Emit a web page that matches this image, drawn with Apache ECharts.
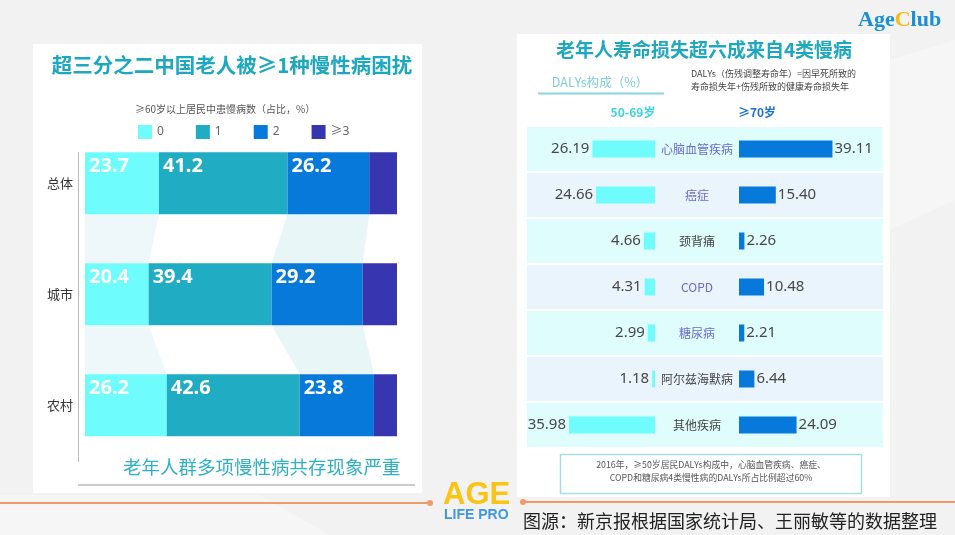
<!DOCTYPE html>
<html>
<head>
<meta charset="utf-8">
<script src="https://cdn.jsdelivr.net/npm/echarts@6.0.0/dist/echarts.min.js"></script>
<style>html,body{margin:0;padding:0;background:#f2f2f2}#c{width:955px;height:535px}</style>
</head>
<body>
<div id="c"></div>
<script>
// ---- Data: left chart (share of elderly by number of chronic diseases, %) ----
const areaCats = ['总体', '城市', '农村'];
const countLabels = ['0', '1', '2', '≥3'];
const share0 = [23.7, 20.4, 26.2];
const share1 = [41.2, 39.4, 42.6];
const share2 = [26.2, 29.2, 23.8];
const share3 = [8.9, 11.0, 7.4];

// ---- Data: right chart (DALYs composition, %) ----
const diseases = ['心脑血管疾病', '癌症', '颈背痛', 'COPD', '糖尿病', '阿尔兹海默病', '其他疾病'];
const dalys5069 = [26.19, 24.66, 4.66, 4.31, 2.99, 1.18, 35.98];
const dalys70 = [39.11, 15.40, 2.26, 10.48, 2.21, 6.44, 24.09];
const majorDiseases = ['心脑血管疾病', '癌症', 'COPD', '糖尿病'];

const FONT = "'Noto Sans CJK SC', 'Noto Sans', sans-serif";
const NUMFONT = "'Noto Sans', 'Noto Sans CJK SC', sans-serif";
const segs = [share0, share1, share2, share3];
const segColors = ['#6ffcfc', '#20acc2', '#0779db', '#3835b0'];
const BAR_L = 62;

function cum(r, n) { let s = 0; for (let j = 0; j < n; j++) s += segs[j][r]; return s; }

const bandData = [];
for (let i = 0; i < areaCats.length - 1; i++) { bandData.push([i, 0]); bandData.push([i, 2]); }

function renderBand(params, api) {
  const i = api.value(0), k = api.value(1), half = BAR_L / 2;
  const a0 = api.coord([cum(i, k), i]), a1 = api.coord([cum(i, k + 1), i]);
  const b0 = api.coord([cum(i + 1, k), i + 1]), b1 = api.coord([cum(i + 1, k + 1), i + 1]);
  return {
    type: 'polygon',
    shape: { points: [[a0[0], a0[1] + half], [a1[0], a1[1] + half], [b1[0], b1[1] - half], [b0[0], b0[1] - half]] },
    style: { fill: k === 0 ? '#eef8fa' : '#e9f6f8' }
  };
}

const chart = echarts.init(document.getElementById('c'), null, { renderer: 'canvas' });

const leftSeries = segs.map((d, k) => ({
  type: 'bar', name: countLabels[k], stack: 'all', xAxisIndex: 0, yAxisIndex: 0,
  barWidth: BAR_L, data: d, z: 3,
  itemStyle: { color: segColors[k] },
  label: {
    show: k < 3, position: 'insideTopLeft', distance: 4, formatter: '{c}',
    color: '#fff', fontSize: 20, fontWeight: 'bold', fontFamily: NUMFONT
  }
}));

const option = {
  backgroundColor: '#f2f2f2',
  animation: false,
  textStyle: { fontFamily: FONT },
  legend: {
    left: 133, top: 120, itemWidth: 14, itemHeight: 14, itemGap: 32, icon: 'rect',
    data: countLabels,
    textStyle: { fontSize: 12, color: '#666', fontFamily: NUMFONT }
  },
  grid: [
    { left: 85, width: 312, top: 127.8, height: 333 },
    { left: 527, width: 356, top: 126, height: 322 },
    { left: 559.4, width: 95.6, top: 126, height: 322 },
    { left: 739, width: 95.6, top: 126, height: 322 }
  ],
  xAxis: [
    { gridIndex: 0, type: 'value', min: 0, max: 100, show: false },
    { gridIndex: 1, type: 'value', min: 0, max: 1, show: false },
    { gridIndex: 2, type: 'value', min: 0, max: 40, inverse: true, show: false },
    { gridIndex: 3, type: 'value', min: 0, max: 40, show: false }
  ],
  yAxis: [
    {
      gridIndex: 0, type: 'category', data: areaCats, inverse: true,
      axisLine: { show: false }, axisTick: { show: false },
      axisLabel: { margin: 12, fontSize: 13, color: '#333', fontFamily: FONT }
    },
    {
      gridIndex: 1, type: 'category', data: diseases, inverse: true,
      axisLine: { show: false }, axisTick: { show: false }, axisLabel: { show: false },
      splitArea: { show: true, areaStyle: { color: ['#e0fdfd', '#eaf4fd'] } },
      splitLine: { show: true, lineStyle: { color: '#ffffff', width: 2 } }
    },
    {
      gridIndex: 2, type: 'category', data: diseases, inverse: true, show: false
    },
    {
      gridIndex: 3, type: 'category', data: diseases, inverse: true,
      axisLine: { show: false }, axisTick: { show: false },
      axisLabel: {
        margin: 42, align: 'center',
        formatter: v => (majorDiseases.indexOf(v) >= 0 ? '{m|' + v + '}' : '{o|' + v + '}'),
        rich: {
          m: { color: '#6a6acf', fontSize: 12, fontFamily: FONT },
          o: { color: '#444', fontSize: 12, fontFamily: FONT }
        }
      }
    }
  ],
  series: [
    {
      type: 'custom', name: 'bands', xAxisIndex: 0, yAxisIndex: 0, silent: true, z: 1,
      encode: { x: 1, y: 0 }, data: bandData, renderItem: renderBand
    },
    ...leftSeries,
    {
      type: 'bar', name: '50-69岁', xAxisIndex: 2, yAxisIndex: 2, barWidth: 17, data: dalys5069,
      itemStyle: { color: '#6ffcfc' },
      label: { show: true, position: 'left', distance: 3, formatter: p => p.value.toFixed(2), fontSize: 15, color: '#474747', fontFamily: NUMFONT }
    },
    {
      type: 'bar', name: '≥70岁', xAxisIndex: 3, yAxisIndex: 3, barWidth: 17, data: dalys70,
      itemStyle: { color: '#0779db' },
      label: { show: true, position: 'right', distance: 2, formatter: p => p.value.toFixed(2), fontSize: 15, color: '#474747', fontFamily: NUMFONT }
    }
  ],
  graphic: {
    elements: [
      // subtle background shapes
      { type: 'polygon', z: -101, shape: { points: [[0, 495], [260, 495], [330, 535], [0, 535]] }, style: { fill: '#f6f6f6' } },
      { type: 'polygon', z: -101, shape: { points: [[890, 60], [955, 40], [955, 200], [890, 230]] }, style: { fill: '#f6f6f6' } },
      // panels
      { type: 'rect', z: -100, shape: { x: 33, y: 44, width: 389, height: 449 }, style: { fill: '#ffffff' } },
      { type: 'rect', z: -100, shape: { x: 517, y: 34, width: 373, height: 463 }, style: { fill: '#ffffff' } },
      // left chart decorations
      { type: 'line', z: 10, shape: { x1: 78.5, y1: 152, x2: 78.5, y2: 462 }, style: { stroke: '#bbbbbb', lineWidth: 1 } },
      { type: 'line', z: 10, shape: { x1: 78, y1: 485, x2: 415, y2: 485 }, style: { stroke: '#cccccc', lineWidth: 2 } },
      { type: 'text', z: 10, style: { x: 232, y: 65, text: '超三分之二中国老人被≥1种慢性病困扰', textAlign: 'center', textVerticalAlign: 'middle', fill: '#1ea8c0', font: 'bold 20.5px ' + FONT } },
      { type: 'text', z: 10, style: { x: 135, y: 109, text: '≥60岁以上居民中患慢病数（占比，%）', textVerticalAlign: 'middle', fill: '#555', font: '10px ' + FONT } },
      { type: 'text', z: 10, style: { x: 123, y: 467, text: '老年人群多项慢性病共存现象严重', textVerticalAlign: 'middle', fill: '#2fb0c5', font: '18.5px ' + FONT } },
      // right chart decorations
      { type: 'text', z: 10, style: { x: 704, y: 50, text: '老年人寿命损失超六成来自4类慢病', textAlign: 'center', textVerticalAlign: 'middle', fill: '#1ea8c0', font: 'bold 19px ' + FONT } },
      { type: 'text', z: 10, style: { x: 600, y: 82, text: 'DALYs构成（%）', textAlign: 'center', textVerticalAlign: 'middle', fill: '#80cbd9', font: '12.5px ' + FONT } },
      { type: 'line', z: 10, shape: { x1: 538, y1: 93.5, x2: 664, y2: 93.5 }, style: { stroke: '#8ad3e0', lineWidth: 2 } },
      { type: 'text', z: 10, style: { x: 691, y: 74, text: 'DALYs（伤残调整寿命年）=因早死所致的', textVerticalAlign: 'middle', fill: '#444', font: '9px ' + FONT } },
      { type: 'text', z: 10, style: { x: 691, y: 87, text: '寿命损失年+伤残所致的健康寿命损失年', textVerticalAlign: 'middle', fill: '#444', font: '9px ' + FONT } },
      { type: 'text', z: 10, style: { x: 633, y: 112, text: '50-69岁', textAlign: 'center', textVerticalAlign: 'middle', fill: '#3ad6dc', font: 'bold 12px ' + FONT } },
      { type: 'text', z: 10, style: { x: 757, y: 112, text: '≥70岁', textAlign: 'center', textVerticalAlign: 'middle', fill: '#1b6fd6', font: 'bold 12px ' + FONT } },
      { type: 'rect', z: 10, shape: { x: 560.5, y: 454.5, width: 301, height: 39 }, style: { fill: 'none', stroke: '#a6dee8', lineWidth: 1.5 } },
      { type: 'text', z: 10, style: { x: 711, y: 465, text: '2016年，≥50岁居民DALYs构成中，心脑血管疾病、癌症、', textAlign: 'center', textVerticalAlign: 'middle', fill: '#555', font: '8.8px ' + FONT } },
      { type: 'text', z: 10, style: { x: 711, y: 478, text: 'COPD和糖尿病4类慢性病的DALYs所占比例超过60%', textAlign: 'center', textVerticalAlign: 'middle', fill: '#555', font: '8.8px ' + FONT } },
      // footer
      { type: 'line', z: 10, shape: { x1: 0, y1: 503, x2: 430, y2: 503 }, style: { stroke: '#ef9a68', lineWidth: 2 } },
      { type: 'circle', z: 10, shape: { cx: 430, cy: 503, r: 3 }, style: { fill: '#ef9a68' } },
      { type: 'line', z: 10, shape: { x1: 523, y1: 502, x2: 955, y2: 502 }, style: { stroke: '#ef9a68', lineWidth: 2 } },
      { type: 'circle', z: 10, shape: { cx: 523, cy: 502, r: 3 }, style: { fill: '#ef9a68' } },
      { type: 'text', z: 10, style: { x: 443, y: 495, text: 'AGE', textVerticalAlign: 'middle', fill: '#f9c416', font: 'bold 31px "Liberation Sans Narrow", "Liberation Sans", sans-serif' } },
      { type: 'text', z: 10, style: { x: 444, y: 515, text: 'LIFE PRO', textVerticalAlign: 'middle', fill: '#3f97de', font: 'bold 14px "Liberation Sans Narrow", "Liberation Sans", sans-serif' } },
      { type: 'text', z: 10, style: { x: 523, y: 521, text: '图源：新京报根据国家统计局、王丽敏等的数据整理', textVerticalAlign: 'middle', fill: '#222', font: '18px ' + FONT } },
      // brand
      {
        type: 'text', z: 10, style: {
          x: 858, y: 20, text: '{a|Age}{c|C}{a|lub}', textVerticalAlign: 'middle',
          font: 'bold 22px "Liberation Serif", serif',
          rich: {
            a: { fill: '#1a8fd3', font: 'bold 22px "Liberation Serif", serif' },
            c: { fill: '#f6b915', font: 'bold 22px "Liberation Serif", serif' }
          }
        }
      }
    ]
  }
};

chart.setOption(option);
</script>
</body>
</html>
